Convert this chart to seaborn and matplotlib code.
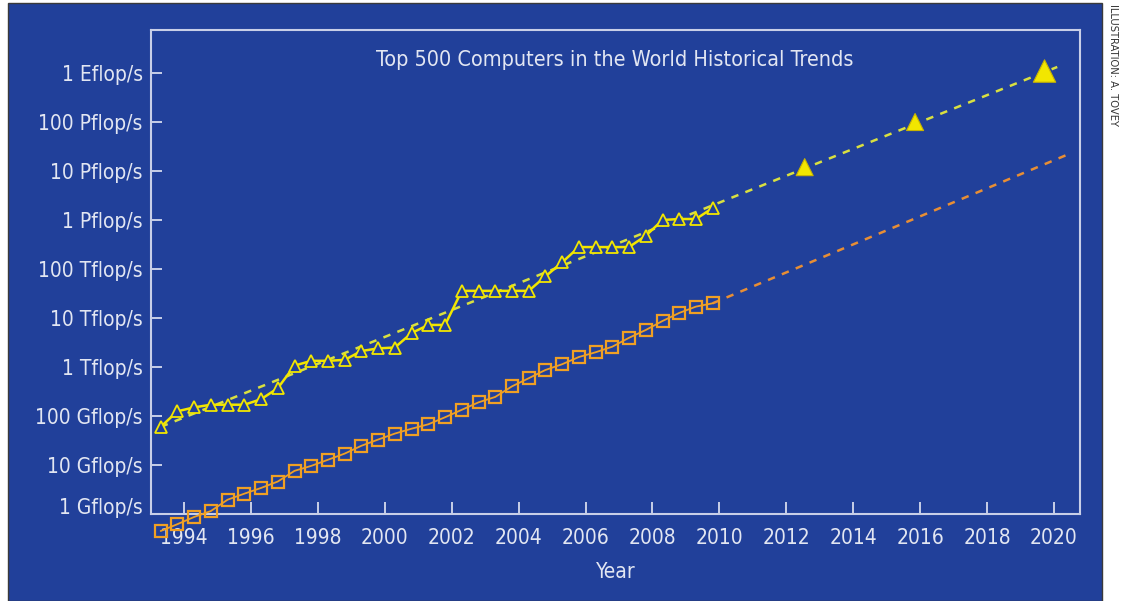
import matplotlib
matplotlib.use("Agg")
import matplotlib.pyplot as plt
import matplotlib.transforms as mtransforms
from matplotlib.patches import Rectangle
import seaborn as sns
import pandas as pd

# ---------------- data (values in Gflop/s) ----------------
dates = [1993.3, 1993.8, 1994.3, 1994.8, 1995.3, 1995.8, 1996.3, 1996.8,
         1997.3, 1997.8, 1998.3, 1998.8, 1999.3, 1999.8, 2000.3, 2000.8,
         2001.3, 2001.8, 2002.3, 2002.8, 2003.3, 2003.8, 2004.3, 2004.8,
         2005.3, 2005.8, 2006.3, 2006.8, 2007.3, 2007.8, 2008.3, 2008.8,
         2009.3, 2009.8]
top1_gflops = [60, 125, 150, 170, 170, 170, 220, 370,
               1068, 1338, 1338, 1400, 2121, 2400, 2500, 4938,
               7226, 7226, 35860, 35860, 35860, 35860, 35860, 70720,
               136800, 280600, 280600, 280600, 280600, 478200, 1000000, 1050000,
               1050000, 1759000]
top500_gflops = [0.45, 0.62, 0.87, 1.15, 1.96, 2.6, 3.4, 4.6,
                 7.6, 9.6, 12.8, 17.1, 24.7, 33.1, 43.8, 55.1,
                 67.8, 94.3, 134, 190, 245, 403, 590, 870,
                 1140, 1600, 2000, 2600, 3950, 5700, 8700, 12700,
                 17100, 20000]
trend1_years = [1993.3, 2020.1]
trend1_gflops = [60, 1.33e9]
trend500_years = [2009.8, 2020.36]
trend500_gflops = [20000, 2.1e7]
proj_years = [2012.55, 2015.85, 2019.72]
proj_gflops = [1.2e7, 1.0e8, 1.1e9]
ytick_vals = [1, 10, 100, 1e3, 1e4, 1e5, 1e6, 1e7, 1e8, 1e9]
ytick_labels = ["1 Gflop/s", "10 Gflop/s", "100 Gflop/s", "1 Tflop/s", "10 Tflop/s",
                "100 Tflop/s", "1 Pflop/s", "10 Pflop/s", "100 Pflop/s", "1 Eflop/s"]
xtick_vals = [1994, 1996, 1998, 2000, 2002, 2004, 2006, 2008, 2010,
              2012, 2014, 2016, 2018, 2020]
title = "Top 500 Computers in the World Historical Trends"
credit = "ILLUSTRATION: A. TOVEY"

# ---------------- style ----------------
BLUE = "#21409A"
TEXT = "#E2E6F2"
SPINE = "#C8CFE8"
YELLOW = "#F2E600"
YELLOW_DASH = "#D9E040"
ORANGE = "#F0A024"
ORANGE_DASH = "#E88E34"

sns.set_style("ticks")
plt.rcParams["font.family"] = ["DejaVu Sans"]
plt.rcParams["font.stretch"] = "condensed"

W, H = 1123, 601
fig = plt.figure(figsize=(W / 100, H / 100), dpi=100)
fig.patch.set_facecolor("white")
fig.patches.append(Rectangle((8 / W, 0), (1102 - 8) / W, (H - 3) / H,
                             transform=fig.transFigure, facecolor=BLUE,
                             edgecolor="#3a3a3a", lw=1.0, zorder=-10))

ax = fig.add_axes([151 / W, (H - 514) / H, (1080 - 151) / W, (514 - 30) / H])
ax.set_facecolor(BLUE)

df1 = pd.DataFrame({"year": dates, "perf": top1_gflops})
df500 = pd.DataFrame({"year": dates, "perf": top500_gflops})
dft1 = pd.DataFrame({"year": trend1_years, "perf": trend1_gflops})
dft500 = pd.DataFrame({"year": trend500_years, "perf": trend500_gflops})
dfp = pd.DataFrame({"year": proj_years, "perf": proj_gflops})

sns.lineplot(data=dft1, x="year", y="perf", ax=ax, color=YELLOW_DASH,
             lw=1.8, linestyle=(0, (3, 3)), zorder=2)
sns.lineplot(data=dft500, x="year", y="perf", ax=ax, color=ORANGE_DASH,
             lw=1.8, linestyle=(0, (3, 3)), zorder=2)
sns.lineplot(data=df500, x="year", y="perf", ax=ax, color=ORANGE, lw=1.3,
             marker="s", markersize=8, markerfacecolor="none",
             markeredgecolor=ORANGE, markeredgewidth=1.6, clip_on=False, zorder=3)
sns.lineplot(data=df1, x="year", y="perf", ax=ax, color=YELLOW, lw=1.8,
             marker="^", markersize=9, markerfacecolor=BLUE,
             markeredgecolor=YELLOW, markeredgewidth=1.3, clip_on=False, zorder=4)
sns.scatterplot(data=dfp, x="year", y="perf", ax=ax, marker="^",
                s=[150, 150, 260], color=YELLOW, edgecolor="#C9B400",
                linewidth=0.8, zorder=5, clip_on=False, legend=False)

ax.set_yscale("log")
ax.set_xlim(1993.01, 2020.78)
ax.set_ylim(1.0, 7.56e9)
ax.set_yticks(ytick_vals)
ax.set_yticklabels(ytick_labels)
ax.yaxis.set_minor_locator(matplotlib.ticker.NullLocator())
ax.set_xticks(xtick_vals)
ax.set_xticklabels([str(v) for v in xtick_vals])
ax.tick_params(axis="both", direction="in", colors=SPINE, labelcolor=TEXT,
               labelsize=15, width=1.4)
ax.tick_params(axis="y", length=8, pad=6)
ax.tick_params(axis="x", length=9, pad=10)
for s in ax.spines.values():
    s.set_color(SPINE)
    s.set_linewidth(1.5)

lab0 = ax.yaxis.get_major_ticks()[0].label1
lab0.set_transform(lab0.get_transform() +
                   mtransforms.ScaledTranslation(0, 6 / 72, fig.dpi_scale_trans))

ax.set_xlabel("")
ax.set_ylabel("")
ax.text(0.4995, 0.938, title, transform=ax.transAxes, ha="center", va="center",
        color=TEXT, fontsize=15.5)
fig.text(616 / W, 1 - 572 / H, "Year", ha="center", va="center",
         color=TEXT, fontsize=15)
fig.text(1113 / W, 1 - 4 / H, credit, rotation=270,
         ha="center", va="top", color="#333333", fontsize=7.2,
         fontstretch="normal")

fig.savefig("out.png", dpi=100, facecolor=fig.get_facecolor())
